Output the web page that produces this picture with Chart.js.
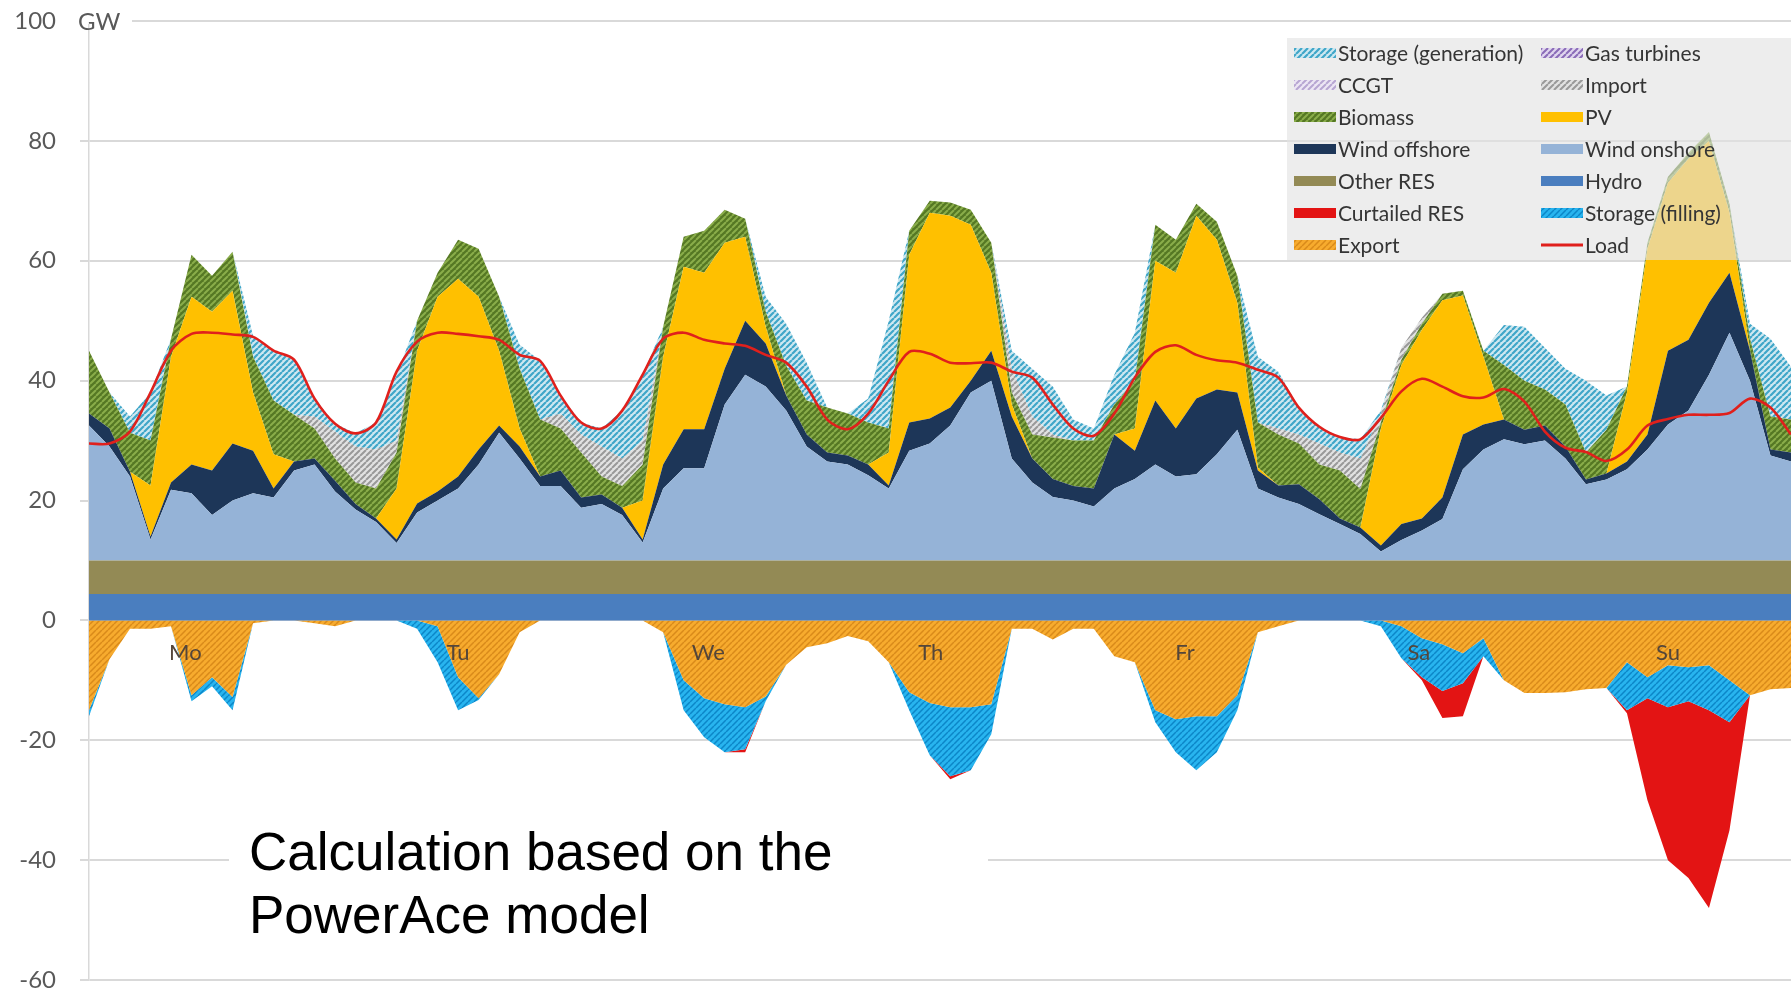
<!DOCTYPE html>
<html>
<head>
<meta charset="utf-8">
<title>Power generation - one week</title>
<script src="https://cdn.jsdelivr.net/npm/chart.js@4.4.1/dist/chart.umd.min.js"></script>
<style>
  html, body { margin: 0; padding: 0; background: #fff; overflow: hidden; }
  #wrap { width: 1791px; height: 995px; position: relative; }
</style>
</head>
<body>
<div id="wrap"><canvas id="chart"></canvas></div>
<script>
// hours of the week, one value every 2 hours
const hours = [
  0, 2, 4, 6, 8, 10, 12, 14, 16, 18, 20, 22,
  24, 26, 28, 30, 32, 34, 36, 38, 40, 42, 44, 46,
  48, 50, 52, 54, 56, 58, 60, 62, 64, 66, 68, 70,
  72, 74, 76, 78, 80, 82, 84, 86, 88, 90, 92, 94,
  96, 98, 100, 102, 104, 106, 108, 110, 112, 114, 116, 118,
  120, 122, 124, 126, 128, 130, 132, 134, 136, 138, 140, 142,
  144, 146, 148, 150, 152, 154, 156, 158, 160, 162, 164, 166
];

// GW, positive side (stacked from the bottom up)
const hydro = [
  4.4, 4.4, 4.4, 4.4, 4.4, 4.4, 4.4, 4.4, 4.4, 4.4, 4.4, 4.4,
  4.4, 4.4, 4.4, 4.4, 4.4, 4.4, 4.4, 4.4, 4.4, 4.4, 4.4, 4.4,
  4.4, 4.4, 4.4, 4.4, 4.4, 4.4, 4.4, 4.4, 4.4, 4.4, 4.4, 4.4,
  4.4, 4.4, 4.4, 4.4, 4.4, 4.4, 4.4, 4.4, 4.4, 4.4, 4.4, 4.4,
  4.4, 4.4, 4.4, 4.4, 4.4, 4.4, 4.4, 4.4, 4.4, 4.4, 4.4, 4.4,
  4.4, 4.4, 4.4, 4.4, 4.4, 4.4, 4.4, 4.4, 4.4, 4.4, 4.4, 4.4,
  4.4, 4.4, 4.4, 4.4, 4.4, 4.4, 4.4, 4.4, 4.4, 4.4, 4.4, 4.4
];
const otherRes = [
  5.6, 5.6, 5.6, 5.6, 5.6, 5.6, 5.6, 5.6, 5.6, 5.6, 5.6, 5.6,
  5.6, 5.6, 5.6, 5.6, 5.6, 5.6, 5.6, 5.6, 5.6, 5.6, 5.6, 5.6,
  5.6, 5.6, 5.6, 5.6, 5.6, 5.6, 5.6, 5.6, 5.6, 5.6, 5.6, 5.6,
  5.6, 5.6, 5.6, 5.6, 5.6, 5.6, 5.6, 5.6, 5.6, 5.6, 5.6, 5.6,
  5.6, 5.6, 5.6, 5.6, 5.6, 5.6, 5.6, 5.6, 5.6, 5.6, 5.6, 5.6,
  5.6, 5.6, 5.6, 5.6, 5.6, 5.6, 5.6, 5.6, 5.6, 5.6, 5.6, 5.6,
  5.6, 5.6, 5.6, 5.6, 5.6, 5.6, 5.6, 5.6, 5.6, 5.6, 5.6, 5.6
];
const windOnshore = [
  22.5, 19, 14, 3.5, 11.8, 11.2, 7.6, 10, 11.2, 10.5, 15, 16,
  11.5, 8.5, 6.4, 2.9, 8, 10, 12, 16, 21.3, 17, 12.4, 12.4,
  8.8, 9.4, 7.6, 3, 12, 15.4, 15.4, 26, 31, 29, 25, 19,
  16.5, 16, 14.2, 12, 18.3, 19.5, 22.5, 28, 30, 17, 13, 10.6,
  10, 9, 12, 13.6, 16, 14, 14.4, 17.7, 21.8, 12, 10.5, 9.4,
  7.7, 6.1, 4.4, 1.5, 3.4, 5, 6.9, 15.2, 18.5, 20.2, 19.4, 20,
  17, 12.7, 13.5, 15.2, 18.5, 22.7, 25, 31, 38, 30, 17.5, 16.5
];
const windOffshore = [
  2, 3, 0.8, 0.5, 1.2, 4.8, 7.4, 9.5, 7.1, 1.5, 1.5, 1,
  1.8, 0.9, 0.6, 0.6, 1.5, 1.5, 2, 2.5, 1.2, 2, 1.6, 2.6,
  1.7, 1.6, 1.2, 0.5, 4, 6.5, 6.5, 6, 9, 7.2, 2.5, 2,
  1.5, 1.5, 1.8, 0.5, 4.7, 4.2, 3, 2, 5, 7, 4, 3,
  2.4, 3, 9, 4.7, 10.7, 8, 12.6, 10.8, 6.2, 3, 2, 3.3,
  2.5, 0.9, 1.1, 1, 2.7, 2, 3.6, 5.8, 4.2, 3.3, 2.4, 2.5,
  2, 0.8, 1, 1.3, 2.5, 12.3, 11.8, 12, 10, 5, 1, 1.5
];
const pv = [
  0, 0, 0, 8.5, 21, 28, 26.5, 25.5, 9.7, 5.7, 0, 0,
  0, 0, 0, 8.5, 25.5, 32.5, 33, 25.5, 12.5, 3, 0, 0,
  0, 0, 0, 6.5, 18, 27.1, 26.1, 21, 14, 2.8, 0, 0,
  0, 0, 0, 5.5, 28, 34.3, 32, 26, 13, 2, 0, 0,
  0, 0, 0, 3.7, 23.3, 26, 30.5, 25, 15, 0.5, 0, 0,
  0, 0, 0, 19.5, 26.5, 31.5, 32.9, 23.2, 11.3, 0, 0, 0,
  0, 0, 0, 11.5, 31, 28, 30.2, 27, 10, 0, 0, 0
];
const biomass = [
  10.5, 6, 6.5, 7.5, 3, 7, 6, 6.5, 6, 9, 7.8, 5,
  3.7, 3.6, 5, 6, 5, 4, 6.5, 8, 9, 10, 9.5, 7,
  7.5, 3, 3.6, 6, 5, 5, 7, 5.5, 3, 2.5, 5, 5.7,
  7.5, 7, 7, 4, 4, 2, 2.2, 2.5, 5, 2, 4, 6.9,
  7.6, 8, 5, 8, 6, 5.5, 2, 3, 4.5, 7.5, 8.5, 6.8,
  5.8, 8, 6.4, 1, 0.9, 1, 1.1, 0.8, 1, 9.1, 8.2, 6,
  7, 4.5, 7.3, 1, 1, 1, 1, 1.5, 1.5, 2, 5.5, 5.5
];
const importPower = [
  0, 0, 0, 0, 0, 0, 0, 0, 0, 0, 0, 2,
  4.5, 6, 6.5, 2, 0, 0, 0, 0, 0, 0, 0, 2.5,
  3, 5, 4.6, 4, 0, 0, 0, 0, 0, 0, 0, 0,
  0, 0, 0, 0, 0, 0, 0, 0, 0, 4, 3, 0.5,
  0, 0, 0, 0, 0, 0, 0, 0, 0, 0, 1, 1.5,
  3.5, 3, 5.1, 1.5, 2, 1, 0, 0, 0, 0, 0, 0,
  0, 0, 0, 0, 0, 0, 0, 0, 0, 0, 0, 0
];
const ccgt = [
  0, 0, 0, 0, 0, 0, 0, 0, 0, 0, 0, 0,
  0, 0, 0, 0, 0, 0, 0, 0, 0, 0, 0, 0,
  0, 0, 0, 0, 0, 0, 0, 0, 0, 0, 0, 0,
  0, 0, 0, 0, 0, 0, 0, 0, 0, 0, 0, 0,
  0, 0, 0, 0, 0, 0, 0, 0, 0, 0, 0, 0,
  0, 0, 0, 0, 0, 0, 0, 0, 0, 0, 0, 0,
  0, 0, 0, 0, 0, 0, 0, 0, 0, 0, 0, 0
];
const gasTurbines = [
  0, 0, 0, 0, 0, 0, 0, 0, 0, 0, 0, 0,
  0, 0, 0, 0, 0, 0, 0, 0, 0, 0, 0, 0,
  0, 0, 0, 0, 0, 0, 0, 0, 0, 0, 0, 0,
  0, 0, 0, 0, 0, 0, 0, 0, 0, 0, 0, 0,
  0, 0, 0, 0, 0, 0, 0, 0, 0, 0, 0, 0,
  0, 0, 0, 0, 0, 0, 0, 0, 0, 0, 0, 0,
  0, 0, 0, 0, 0, 0, 0, 0, 0, 0, 0, 0
];
const storageGen = [
  0, 0, 2.7, 8, 0, 0, 0, 0, 3.5, 8.3, 9.2, 3,
  1.3, 2.2, 4.5, 11, 0, 0, 0, 0, 0, 4, 9.8, 3,
  2, 3, 8, 11, 0, 0, 0, 0, 0, 2.5, 7, 6.3,
  0, 0, 4, 18, 0, 0, 0, 0, 0, 3, 8, 8,
  3.5, 2, 5, 8, 0, 0, 0, 0, 0, 11, 9.5, 4.5,
  2.8, 2.6, 3.2, 0.5, 0, 0, 0, 0, 0, 6.7, 9, 7,
  6, 12, 5.7, 0, 0, 0, 0, 0, 0, 2.5, 13, 8.8
];

// GW, negative side (stacked from zero downwards)
const exportPower = [
  -15, -6.5, -1.4, -1.4, -1, -12.5, -9.5, -12.8, -0.5, 0, 0, -0.5,
  -1, 0, 0, 0, 0, -1, -9.5, -13, -9, -2, 0, 0,
  0, 0, 0, 0, -2, -10, -13, -14, -14.5, -12.7, -7.4, -4.5,
  -3.8, -2.6, -3.5, -7, -12, -13.8, -14.5, -14.5, -14, -1.4, -1.4, -3.2,
  -1.4, -1.4, -6, -7, -15, -16.5, -16, -16, -12.5, -2, -1, 0,
  0, 0, 0, 0, -1, -3, -4, -5.5, -3, -10, -12.1, -12.1,
  -12, -11.5, -11.3, -7, -9.5, -7.5, -7.8, -7.5, -10, -12.5, -11.5, -11.3
];
const storageFill = [
  -1, 0, 0, 0, 0, -1, -1.5, -2.2, 0, 0, 0, 0,
  0, 0, 0, 0, -1.4, -6, -5.5, -0.3, 0, 0, 0, 0,
  0, 0, 0, 0, 0, -5, -6.5, -8, -7, -0.8, 0, 0,
  0, 0, 0, 0, -3, -8.7, -11.5, -10.5, -5, 0, 0, 0,
  0, 0, 0, 0, -2, -5.5, -9, -6, -2.5, 0, 0, 0,
  0, 0, 0, -1, -5.3, -6.5, -7.8, -5, -3, 0, 0, 0,
  0, 0, 0, -8, -3.5, -7, -5.7, -7.5, -7, 0, 0, 0
];
const curtailed = [
  0, 0, 0, 0, 0, 0, 0, 0, 0, 0, 0, 0,
  0, 0, 0, 0, 0, 0, 0, 0, 0, 0, 0, 0,
  0, 0, 0, 0, 0, 0, 0, 0, -0.5, 0, 0, 0,
  0, 0, 0, 0, 0, 0, -0.5, 0, 0, 0, 0, 0,
  0, 0, 0, 0, 0, 0, 0, 0, 0, 0, 0, 0,
  0, 0, 0, 0, 0, -0.5, -4.5, -5.5, 0, 0, 0, 0,
  0, 0, 0, -0.5, -17, -25.5, -29.5, -33, -18, 0, 0, 0
];

const load = [
  29.5, 29.5, 31.5, 38, 45, 47.8, 48, 47.7, 47.3, 45, 43.5, 37,
  32.8, 31.2, 33, 41.5, 46.5, 48, 47.8, 47.4, 46.8, 44.3, 43.3, 37.5,
  33, 32, 35, 41, 47, 48, 46.8, 46.2, 45.8, 44.3, 43, 39,
  33.5, 31.9, 34.5, 40, 44.8, 44.5, 43, 42.9, 43, 41.5, 40.5, 36,
  32, 30.8, 34.5, 40.5, 44.8, 45.9, 44.3, 43.4, 43, 41.8, 40.5, 35.5,
  32.3, 30.6, 30.2, 33.8, 38.2, 40.3, 39, 37.4, 37.2, 38.6, 36.5, 31.5,
  28.8, 28.1, 26.6, 28.5, 32.5, 33.6, 34.3, 34.3, 34.6, 37, 35.5, 31
];

// day names and the hour where each one is written
const dayLabels = ['Mo', 'Tu', 'We', 'Th', 'Fr', 'Sa', 'Su'];
const dayHours = [9.4, 36, 60.4, 82.1, 106.9, 129.7, 154];

// legend order, read row by row as in the original
const legendOrder = [
  'Storage (generation)', 'Gas turbines',
  'CCGT', 'Import',
  'Biomass', 'PV',
  'Wind offshore', 'Wind onshore',
  'Other RES', 'Hydro',
  'Curtailed RES', 'Storage (filling)',
  'Export', 'Load'
];

const canvas = document.getElementById('chart');
const mainCtx = canvas.getContext('2d');

// diagonal hatching like the excel fill patterns
function hatch(bg, fg, step, width) {
  const c = document.createElement('canvas');
  c.width = step;
  c.height = step;
  const g = c.getContext('2d');
  g.fillStyle = bg;
  g.fillRect(0, 0, step, step);
  g.strokeStyle = fg;
  g.lineWidth = width;
  g.beginPath();
  for (let k = -step; k <= step; k += step) {
    g.moveTo(k, step);
    g.lineTo(k + step, 0);
  }
  g.stroke();
  return mainCtx.createPattern(c, 'repeat');
}

function area(label, data, color, stack, fill) {
  return {
    label: label,
    data: data,
    backgroundColor: color,
    borderWidth: 0,
    pointRadius: 0,
    fill: fill,
    stack: stack,
    tension: 0
  };
}

const datasets = [
  {
    label: 'Load',
    data: load,
    borderColor: '#e0201c',
    borderWidth: 2.6,
    pointRadius: 0,
    fill: false,
    stack: 'load',
    tension: 0.3
  },
  area('Hydro', hydro, '#4a7ebf', 'pos', 'origin'),
  area('Other RES', otherRes, '#938a55', 'pos', '-1'),
  area('Wind onshore', windOnshore, '#95b3d7', 'pos', '-1'),
  area('Wind offshore', windOffshore, '#1d3658', 'pos', '-1'),
  area('PV', pv, '#ffc000', 'pos', '-1'),
  area('Biomass', biomass, hatch('#557824', '#8aad4a', 6, 2), 'pos', '-1'),
  area('Import', importPower, hatch('#e2e2e2', '#999999', 6, 2), 'pos', '-1'),
  area('CCGT', ccgt, hatch('#ece6f4', '#b7a6d2', 6, 2), 'pos', '-1'),
  area('Gas turbines', gasTurbines, hatch('#e0d6ee', '#8a6bb8', 6, 2), 'pos', '-1'),
  area('Storage (generation)', storageGen, hatch('#cfe8f1', '#3fa6c8', 6, 2.2), 'pos', '-1'),
  area('Export', exportPower, hatch('#f7ab2e', '#d98a1a', 6, 1.5), 'neg', 'origin'),
  area('Storage (filling)', storageFill, hatch('#28b4ef', '#0c86c8', 6, 1.5), 'neg', '-1'),
  area('Curtailed RES', curtailed, '#e31414', 'neg', '-1')
];

const extras = {
  id: 'extras',
  afterDatasetsDraw(chart) {
    const {ctx, scales: {x, y}} = chart;
    ctx.save();
    ctx.font = '22px Lato';
    ctx.fillStyle = '#54463a';
    ctx.textAlign = 'center';
    ctx.textBaseline = 'middle';
    dayLabels.forEach((d, i) => {
      ctx.fillText(d, x.getPixelForValue(dayHours[i] / 2), y.getPixelForValue(-5.4));
    });
    ctx.restore();
  },
  afterDraw(chart) {
    const {ctx, scales: {y}} = chart;
    ctx.save();

    // unit next to the top tick
    const y100 = y.getPixelForValue(100);
    ctx.fillStyle = '#fff';
    ctx.fillRect(74, y100 - 3, 58, 6);
    ctx.fillStyle = '#595959';
    ctx.font = '24px Lato';
    ctx.textBaseline = 'middle';
    ctx.textAlign = 'left';
    ctx.fillText('GW', 78, y100 + 1);

    // source note
    const y40 = y.getPixelForValue(-40);
    ctx.fillStyle = '#fff';
    ctx.fillRect(229, y40 - 4, 759, 8);
    ctx.fillStyle = '#000';
    ctx.font = '53px "Liberation Sans", Arial, sans-serif';
    ctx.textBaseline = 'alphabetic';
    ctx.fillText('Calculation based on the', 249, 870);
    ctx.fillText('PowerAce model', 249, 933);

    // legend box, two columns
    ctx.fillStyle = 'rgba(226,226,226,0.62)';
    ctx.fillRect(1287, 38, 504, 222);
    ctx.font = '21px Lato';
    ctx.textBaseline = 'middle';
    legendOrder.forEach((label, k) => {
      const ds = chart.data.datasets.find(d => d.label === label);
      const sx = k % 2 ? 1541 : 1294;
      const cy = 53 + Math.floor(k / 2) * 32;
      if (ds.fill === false) {
        ctx.strokeStyle = ds.borderColor;
        ctx.lineWidth = 3;
        ctx.beginPath();
        ctx.moveTo(sx, cy);
        ctx.lineTo(sx + 42, cy);
        ctx.stroke();
      } else {
        ctx.fillStyle = ds.backgroundColor;
        ctx.fillRect(sx, cy - 5, 42, 10);
      }
      ctx.fillStyle = '#353535';
      ctx.fillText(label, sx + 44, cy + 1);
    });
    ctx.restore();
  }
};

Chart.defaults.font.family = 'Lato';

new Chart(canvas, {
  type: 'line',
  data: { labels: hours, datasets: datasets },
  options: {
    responsive: true,
    maintainAspectRatio: false,
    animation: false,
    devicePixelRatio: 1,
    layout: { padding: { top: 21, bottom: 15, left: 0, right: 0 } },
    plugins: {
      legend: { display: false },
      tooltip: { enabled: false }
    },
    scales: {
      x: {
        type: 'category',
        display: false
      },
      y: {
        stacked: true,
        min: -60,
        max: 100,
        afterFit: (scale) => {
          scale.width = 89;
          scale.paddingTop = 0;
          scale.paddingBottom = 0;
        },
        ticks: {
          stepSize: 20,
          color: '#595959',
          font: { size: 24 },
          padding: 24
        },
        grid: {
          color: '#d9d9d9',
          lineWidth: 2,
          tickLength: 9
        },
        border: { display: true, color: '#d9d9d9', width: 1.5 }
      }
    }
  },
  plugins: [extras]
});
</script>
</body>
</html>
